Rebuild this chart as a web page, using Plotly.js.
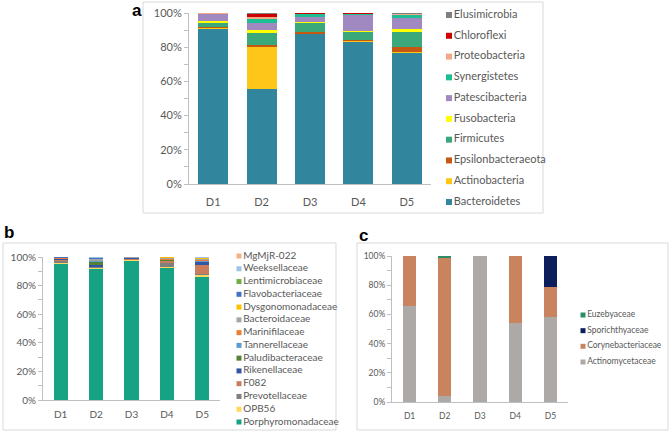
<!DOCTYPE html>
<html>
<head>
<meta charset="utf-8">
<script src="https://cdn.plot.ly/plotly-3.0.1.min.js"></script>
<style>
  body { margin: 0; background: #fff; }
  #plot { width: 670px; height: 433px; }
</style>
</head>
<body>
<div id="plot"></div>
<script>
// sample days (shared by all three panels)
var days = ['D1', 'D2', 'D3', 'D4', 'D5'];

// panel a - phyla, bottom of the stack first (%)
var phylaNames = ['Bacteroidetes', 'Actinobacteria', 'Epsilonbacteraeota', 'Firmicutes', 'Fusobacteria',
    'Patescibacteria', 'Synergistetes', 'Proteobacteria', 'Chloroflexi', 'Elusimicrobia'];
var phylaValues = [
    [90.8, 55.5, 87.7, 82.9, 76.6],
    [0.2, 24.4, 0.3, 0.5, 0.6],
    [0.8, 1.4, 1.0, 1.1, 2.9],
    [2.3, 7.0, 5.3, 4.1, 8.8],
    [1.0, 1.8, 0.6, 1.0, 2.0],
    [4.5, 4.3, 2.9, 9.2, 6.0],
    [0.1, 2.3, 1.6, 0.7, 2.1],
    [0.1, 1.2, 0.2, 0.1, 0.4],
    [0.2, 1.8, 0.2, 0.3, 0.2],
    [0.0, 0.3, 0.2, 0.1, 0.4]
];
var phylaColors = ['#31859C', '#FFC61A', '#C65911', '#3AA87A', '#FFFF00',
    '#A088C0', '#1DBE94', '#F5A888', '#CC0000', '#7F7F7F'];

// panel b - Bacteroidetes families (%)
var bactNames = ['Porphyromonadaceae', 'OPB56', 'Prevotellaceae', 'F082', 'Rikenellaceae',
    'Paludibacteraceae', 'Tannerellaceae', 'Marinifilaceae', 'Bacteroidaceae', 'Dysgonomonadaceae',
    'Flavobacteriaceae', 'Lentimicrobiaceae', 'Weeksellaceae', 'MgMjR-022'];
var bactValues = [
    [94.8, 91.7, 96.9, 92.0, 86.0],
    [1.3, 0.9, 0.8, 0.9, 1.6],
    [1.2, 0.4, 0.5, 3.0, 0.7],
    [0.6, 0.2, 0.1, 1.0, 5.8],
    [0.5, 0.9, 0.8, 0.6, 2.3],
    [0.3, 2.5, 0.2, 0.5, 0.3],
    [0.2, 0.8, 0.2, 0.2, 0.4],
    [0.2, 0.1, 0.1, 0.2, 0.9],
    [0.3, 1.2, 0.2, 0.8, 0.9],
    [0.2, 0.2, 0.0, 0.5, 0.3],
    [0.1, 0.2, 0.1, 0.1, 0.2],
    [0.1, 0.2, 0.1, 0.1, 0.2],
    [0.1, 0.6, 0.0, 0.1, 0.2],
    [0.1, 0.1, 0.0, 0.0, 0.2]
];
var bactColors = ['#16A383', '#FFD85C', '#7F7F7F', '#C97D5D', '#2F55A4',
    '#548235', '#5B9BD5', '#ED7D31', '#A5A5A5', '#FFC000',
    '#4472C4', '#70AD47', '#9DC3E6', '#F4B183'];

// panel c - Actinobacteria families (%)
var actNames = ['Actinomycetaceae', 'Corynebacteriaceae', 'Sporichthyaceae', 'Euzebyaceae'];
var actValues = [
    [66.0, 4.3, 100, 53.9, 58.0],
    [34.0, 94.1, 0, 46.1, 20.5],
    [0, 0, 0, 0, 21.5],
    [0, 1.6, 0, 0, 0]
];
var actColors = ['#ADA9A7', '#C9845F', '#0C1E5C', '#2B8C66'];

var W = 670, H = 433;
var FONT = 'Lato, "Open Sans", sans-serif';
var GREY = '#595959', LINE = '#BFBFBF';

// pixel helpers for paper coordinates
function px(x) { return x / W; }
function py(y) { return 1 - y / H; }

var data = [];

function addBars(names, values, colors, xa, ya, width) {
    names.forEach(function (name, i) {
        data.push({
            type: 'bar', x: days, y: values[i], name: name,
            xaxis: xa, yaxis: ya, width: width,
            marker: { color: colors[i], line: { width: 0 } },
            hovertemplate: name + ' %{x}: %{y}%<extra></extra>'
        });
    });
}

// legend drawn as a marker column on its own hidden axes
function addKey(names, colors, xa, ya, size, fontSize) {
    data.push({
        type: 'scatter', mode: 'markers+text', xaxis: xa, yaxis: ya,
        x: names.map(function () { return 0; }),
        y: names.map(function (n, i) { return i; }),
        text: names, textposition: 'middle right',
        textfont: { family: FONT, size: fontSize, color: GREY },
        marker: { symbol: 'square', size: size, color: colors, line: { width: 0 } },
        cliponaxis: false, hoverinfo: 'skip'
    });
}

addBars(phylaNames, phylaValues, phylaColors, 'x', 'y', 0.62);
addBars(bactNames, bactValues, bactColors, 'x2', 'y2', 0.4);
addBars(actNames, actValues, actColors, 'x3', 'y3', 0.37);

addKey(phylaNames, phylaColors, 'x4', 'y4', 6, 11);
addKey(bactNames, bactColors, 'x5', 'y5', 5, 10);
addKey(actNames, actColors, 'x6', 'y6', 5, 8.5);

function yAx(domain, anchor, size) {
    return {
        domain: domain, anchor: anchor, range: [0, 100], dtick: 20, tick0: 0, ticksuffix: '%',
        ticks: 'outside', ticklen: 4, tickcolor: LINE, showline: true, linecolor: LINE,
        showgrid: false, zeroline: false, fixedrange: true,
        minor: { dtick: 10, ticks: 'outside', ticklen: 4, tickcolor: LINE, showgrid: false },
        tickfont: { family: FONT, size: size, color: GREY }
    };
}
function xAx(domain, anchor, size, standoff) {
    return {
        domain: domain, anchor: anchor, type: 'category', showline: true, linecolor: LINE,
        ticks: '', showgrid: false, zeroline: false, fixedrange: true, ticklabelstandoff: standoff,
        tickfont: { family: FONT, size: size, color: GREY }
    };
}
function keyAx(domain, anchor, range) {
    return { domain: domain, anchor: anchor, range: range, visible: false, fixedrange: true };
}

function frame(x0, y0, x1, y1) {
    return {
        type: 'rect', xref: 'paper', yref: 'paper', x0: px(x0), x1: px(x1), y0: py(y1), y1: py(y0),
        line: { color: '#D9D9D9', width: 1 }, fillcolor: 'rgba(0,0,0,0)', layer: 'below'
    };
}
function panelLabel(txt, x, y) {
    return {
        text: '<b>' + txt + '</b>', xref: 'paper', yref: 'paper', x: px(x), y: py(y),
        xanchor: 'center', yanchor: 'middle', showarrow: false,
        font: { family: 'Liberation Sans, Arial, sans-serif', size: 17, color: '#000' }
    };
}

var layout = {
    width: W, height: H,
    margin: { l: 0, r: 0, t: 0, b: 0 },
    paper_bgcolor: '#fff', plot_bgcolor: 'rgba(0,0,0,0)',
    barmode: 'stack', showlegend: false,
    font: { family: FONT, color: GREY },
    xaxis: xAx([px(189), px(431)], 'y', 11, 8),
    yaxis: yAx([py(184), py(13)], 'x', 11),
    xaxis2: xAx([px(43), px(220)], 'y2', 10, 5),
    yaxis2: yAx([py(400), py(257)], 'x2', 10),
    xaxis3: xAx([px(392), px(568)], 'y3', 8.5, 6),
    yaxis3: yAx([py(402), py(256)], 'x3', 8.5),
    xaxis4: keyAx([px(449), 1], 'y4', [0, 1]),
    yaxis4: keyAx([py(202), py(15)], 'x4', [0, phylaNames.length - 1]),
    xaxis5: keyAx([px(239), 1], 'y5', [0, 1]),
    yaxis5: keyAx([py(422), py(256)], 'x5', [0, bactNames.length - 1]),
    xaxis6: keyAx([px(583), 1], 'y6', [0, 1]),
    yaxis6: keyAx([py(362), py(315)], 'x6', [0, actNames.length - 1]),
    shapes: [
        frame(143, 2, 543, 213),
        frame(3, 243, 336, 430),
        frame(357, 243, 668, 430)
    ],
    annotations: [
        panelLabel('a', 137, 11),
        panelLabel('b', 9, 233),
        panelLabel('c', 363, 235)
    ]
};

Plotly.newPlot('plot', data, layout, { displayModeBar: false, staticPlot: true });
</script>
</body>
</html>
